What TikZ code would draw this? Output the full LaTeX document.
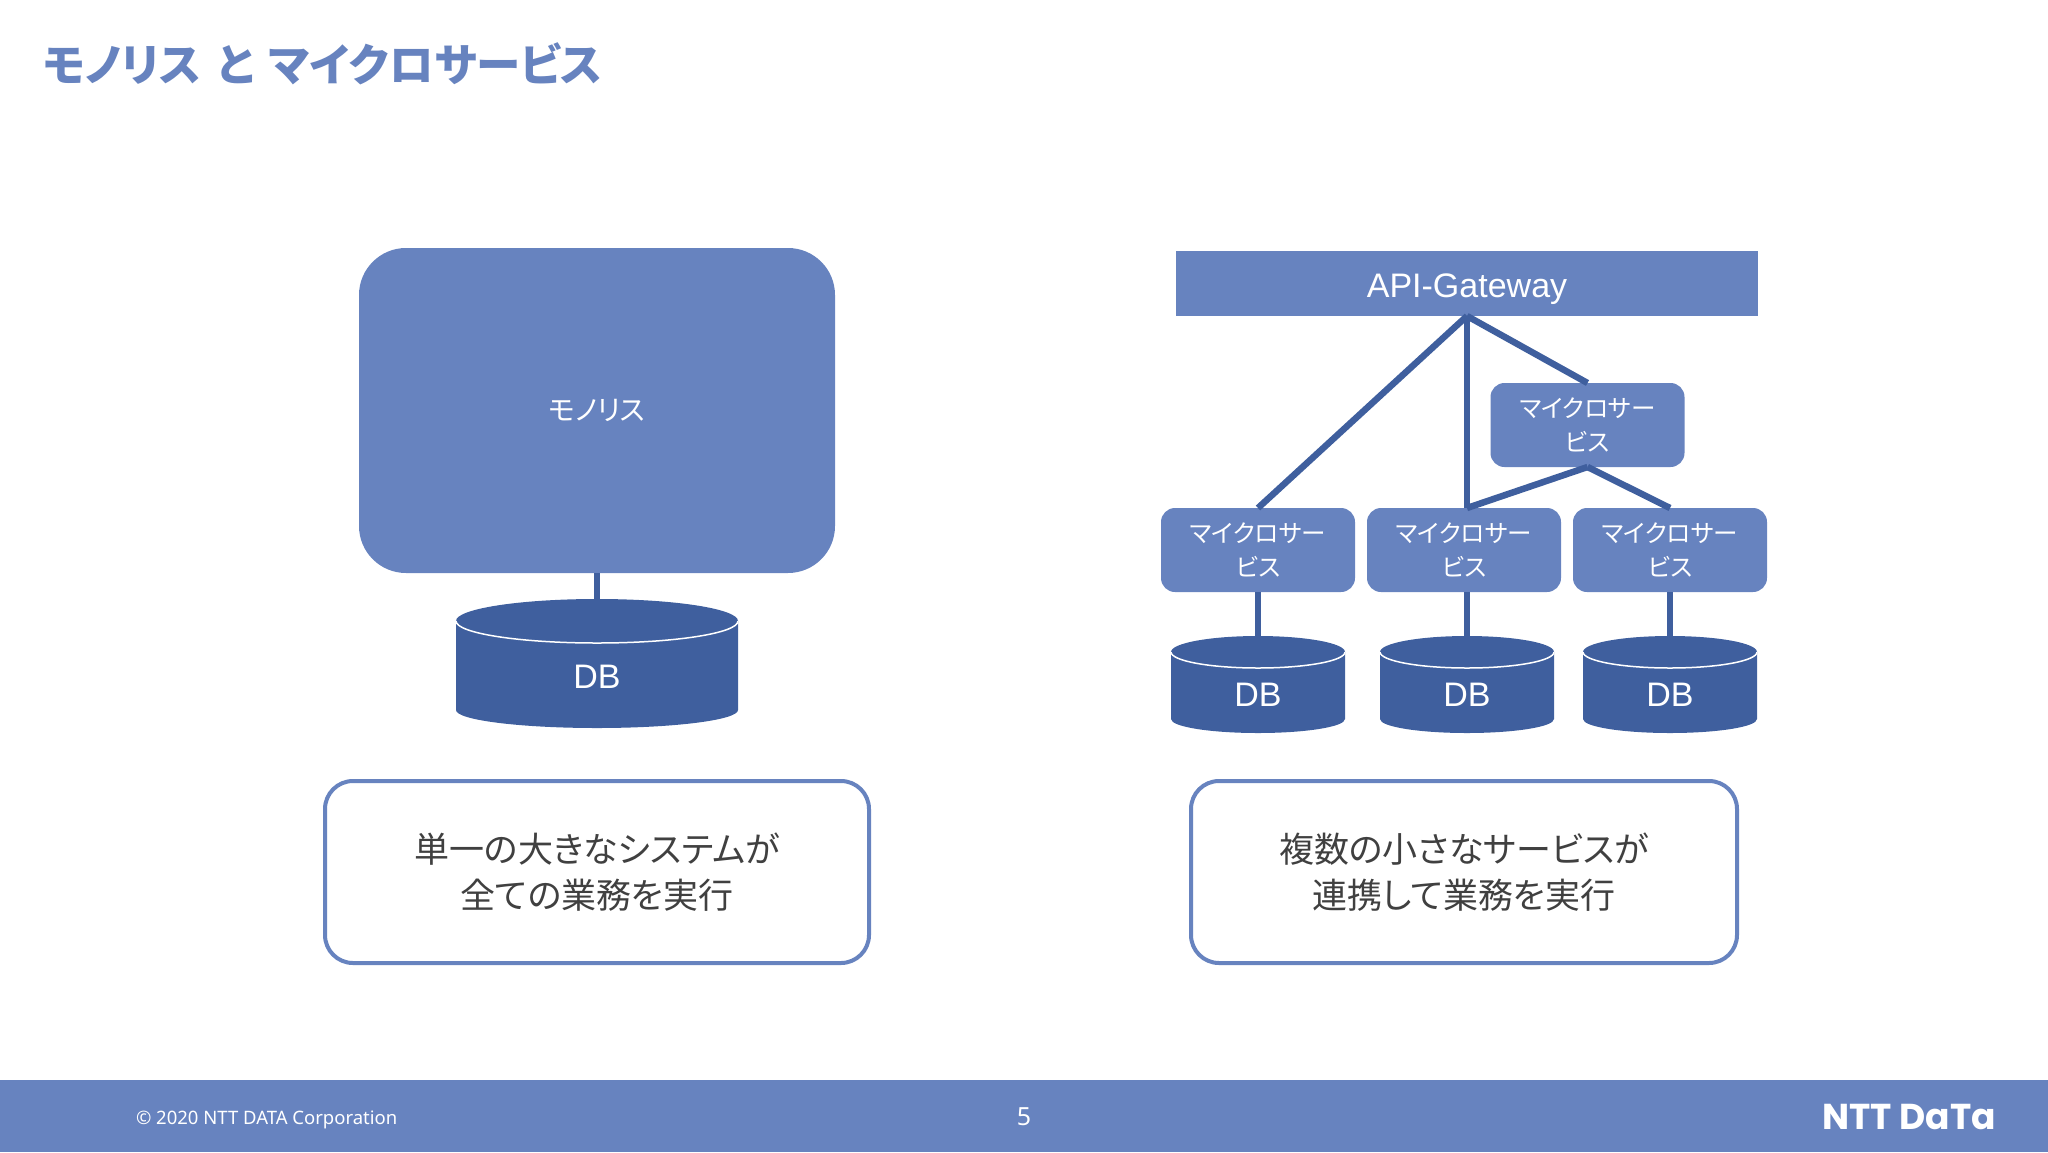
\documentclass[tikz,border=0pt]{standalone}
\usepackage{fontspec}
\usepackage{xcolor}
\setmainfont{Liberation Sans}
\newfontfamily\cjk[RawFeature=+palt]{Noto Sans CJK JP}
\newfontfamily\foot{Noto Sans}
\newfontfamily\logofont{Poppins}
\usetikzlibrary{arrows.meta,positioning,calc}
\definecolor{cA}{HTML}{6783BF}
\definecolor{cB}{HTML}{3F5F9E}
\definecolor{cT}{HTML}{404040}
\tikzset{
  every node/.style={inner sep=0pt,outer sep=0pt},
  svcbox/.style={rectangle,rounded corners=14pt,fill=cA,text=white,align=center,
              minimum width=194pt,minimum height=84pt,
              font=\cjk\fontsize{24.5}{34}\selectfont},
  dbcyl/.style n args={4}{rectangle,text=white,text depth=0pt,
              minimum width=2*#1 pt,minimum height=#2 pt,font=\fontsize{34}{38}\selectfont,
              path picture={
                \fill[cB] ([yshift=-#3 pt]path picture bounding box.north west)
                  arc[start angle=180,end angle=0,x radius=#1 pt,y radius=#3 pt]
                  -- ([yshift=#4 pt]path picture bounding box.south east)
                  arc[start angle=0,end angle=-180,x radius=#1 pt,y radius=#4 pt] -- cycle;
                \draw[white,line width=1.5pt] ([yshift=-#3 pt]path picture bounding box.north west)
                  arc[start angle=180,end angle=360,x radius=#1 pt,y radius=#3 pt];}},
  capbox/.style={rectangle,rounded corners=28pt,draw=cA,line width=4pt,fill=white,
              text=cT,align=center,minimum height=182pt,
              font=\cjk\fontsize{35}{46}\selectfont},
  link/.style={cB,line width=6.5pt},
}
\begin{document}
\begin{tikzpicture}[x=1pt,y=-1pt]
  \useasboundingbox (0,0) rectangle (2048,1152);
  \node[anchor=west,text=cA,font=\cjk\bfseries\fontsize{44.5}{52}\selectfont] (title) at (43,64) {モノリス\hspace{5pt} と \hspace{5pt}マイクロサービス};

  \node[rectangle,rounded corners=47pt,fill=cA,text=white,minimum width=476pt,minimum height=325pt,
        font=\cjk\fontsize{28}{36}\selectfont] (mono) at (597,410.5) {モノリス};
  \node[dbcyl={141}{129}{22}{18},text height=49pt,below=26pt of mono] (dbMono) {DB};
  \node[capbox,minimum width=544pt] (capMono) at (597,872) {単一の大きなシステムが\\全ての業務を実行};
  \draw[link] (mono) -- (dbMono);

  \node[rectangle,fill=cA,text=white,minimum width=582pt,minimum height=65pt,text height=27.4pt,text depth=0pt,
        font=\fontsize{34}{40}\selectfont] (api) at (1467,283.5) {API-Gateway};
  \node[svcbox] (svcA) at (1258,550) {マイクロサー\\ビス};
  \node[svcbox,right=12pt of svcA] (svcB) {マイクロサー\\ビス};
  \node[svcbox,right=12pt of svcB] (svcC) {マイクロサー\\ビス};
  \node[svcbox,above=41pt of svcB,xshift=123.5pt] (svcUp) {マイクロサー\\ビス};
  \node[dbcyl={87}{97}{16}{14},text height=44pt,below=44pt of svcA] (dbA) {DB};
  \node[dbcyl={87}{97}{16}{14},text height=44pt,below=44pt of svcB,xshift=3pt] (dbB) {DB};
  \node[dbcyl={87}{97}{16}{14},text height=44pt,below=44pt of svcC] (dbC) {DB};
  \node[capbox,minimum width=546pt] (capMicro) at (1464,872) {複数の小さなサービスが\\連携して業務を実行};

  \draw[link] (api.south) -- (svcA.north);
  \draw[link] (api.south) -- (api.south |- svcB.north);
  \draw[link] (api.south) -- (svcUp.north);
  \draw[link] (svcUp.south) -- (api.south |- svcB.north);
  \draw[link] (svcUp.south) -- (svcC.north);
  \draw[link] (svcA) -- (dbA);
  \draw[link] (dbB.north |- svcB.south) -- (dbB);
  \draw[link] (svcC) -- (dbC);

  \node[rectangle,fill=cA,minimum width=2048pt,minimum height=72pt] (footbar) at (1024,1116) {};
  \node[anchor=west,text=white,font=\foot\fontsize{18.5}{22}\selectfont] (copyright) at (136,1120) {© 2020 NTT DATA Corporation};
  \node[text=white,font=\foot\fontsize{25}{30}\selectfont] (pageno) at (1024,1117) {5};
  \node[anchor=east,text=white,font=\logofont\bfseries\fontsize{36}{40}\selectfont] (logo) at (1996,1117) {NTT DaTa};
\end{tikzpicture}
\end{document}
